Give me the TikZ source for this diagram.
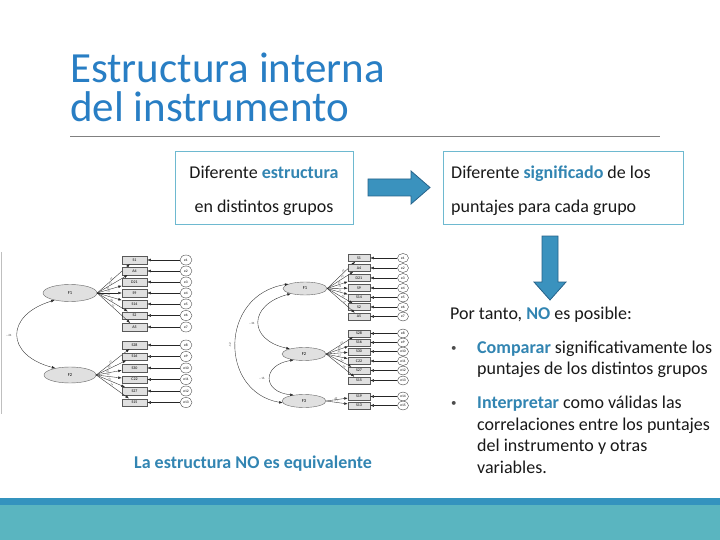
\documentclass[tikz,border=0pt]{standalone}
\usepackage{fontspec}
\setmainfont{Carlito}
\usetikzlibrary{arrows.meta,shapes.geometric}
\definecolor{titleblue}{RGB}{40,126,196}
\definecolor{accent}{RGB}{50,133,178}
\definecolor{boxline}{RGB}{110,185,208}
\definecolor{arrowfill}{RGB}{58,146,190}
\definecolor{arrowline}{RGB}{38,98,138}
\definecolor{stripdark}{RGB}{52,147,190}
\definecolor{stripteal}{RGB}{90,181,192}
\definecolor{bodytext}{RGB}{25,25,25}
\tikzset{
  ttl/.style={anchor=base west, inner sep=0, font=\fontsize{43}{43}\selectfont, text=titleblue},
  body/.style={anchor=base west, inner sep=0, font=\fontsize{18}{21}\selectfont, text=bodytext},
  frame/.style={draw=boxline, line width=0.9pt, anchor=north west, inner sep=0},
  blockarrow/.style={fill=arrowfill, draw=arrowline, line width=0.8pt, line join=miter},
  latent/.style={ellipse, draw=black!60, fill=black!12, line width=0.4pt, inner sep=0, font=\fontsize{4.5}{4.5}\selectfont},
  obs/.style={rectangle, draw=black!65, fill=black!12, line width=0.5pt, inner sep=0, font=\fontsize{4}{4}\selectfont},
  err/.style={ellipse, draw=black!75, fill=white, line width=0.4pt, inner sep=0, font=\fontsize{3.6}{3.6}\selectfont},
  ld/.style={-{Latex[length=3.5pt,width=2.6pt]}, line width=0.35pt, draw=black!85},
  cov/.style={{Latex[length=3.5pt,width=2.6pt]}-{Latex[length=3.5pt,width=2.6pt]}, line width=0.35pt, draw=black!85},
  lbl/.style={font=\fontsize{2.6}{2.6}\selectfont, inner sep=0.2pt, text=black!70}
}
\begin{document}
\begin{tikzpicture}[x=1pt,y=-1pt]
\useasboundingbox (0,0) rectangle (720,540);
\fill[white] (0,0) rectangle (720,540);

% title
\node[ttl] (t1) at (70,83) {Estructura interna};
\node[ttl] (t2) at (70,122) {del instrumento};
\coordinate (r1) at (70,136);
\coordinate (r2) at (660,136);
\draw[black!50, line width=0.8pt] (r1) -- (r2);

% boxes
\node[frame, minimum width=178pt, minimum height=73pt] (box1) at (175,151) {};
\node[frame, minimum width=240pt, minimum height=73pt] (box2) at (443,151) {};
\node[body, anchor=base] (b1a) at (264,179) {Diferente \textcolor{accent}{\textbf{estructura}}};
\node[body, anchor=base] (b1b) at (264,213) {en distintos grupos};
\node[body] (b2a) at (451,179) {Diferente \textcolor{accent}{\textbf{significado}} de los};
\node[body] (b2b) at (451,213) {puntajes para cada grupo};

% block arrows
\draw[blockarrow] (368,179) -- (411,179) -- (411,171) -- (430,187.5) -- (411,204) -- (411,196) -- (368,196) -- cycle;
\draw[blockarrow] (542,236) -- (558,236) -- (558,282) -- (566,282) -- (550,300) -- (534,282) -- (542,282) -- cycle;

% right text
\node[body] (pt) at (450,319) {Por tanto, \textcolor{accent}{\textbf{NO}} es posible:};
\node[body, font=\fontsize{11}{11}\selectfont, text=black!70] (bu1) at (451,351) {\textbullet};
\node[body] (c1) at (477,353) {\textcolor{accent}{\textbf{Comparar}} significativamente los};
\node[body] (c2) at (477,374) {puntajes de los distintos grupos};
\node[body, font=\fontsize{11}{11}\selectfont, text=black!70] (bu2) at (451,406) {\textbullet};
\node[body] (i1) at (477,408) {\textcolor{accent}{\textbf{Interpretar}} como válidas las};
\node[body] (i2) at (477,430) {correlaciones entre los puntajes};
\node[body] (i3) at (477,451) {del instrumento y otras};
\node[body] (i4) at (477,473) {variables.};

% caption
\node[body, anchor=base, text=accent] (cap) at (253,468) {\textbf{La estructura NO es equivalente}};

% image edge
\coordinate (ed1) at (1,252);
\coordinate (ed2) at (1,414);
\draw[black!25, line width=0.6pt] (ed1) -- (ed2);

% ---------------- left SEM ----------------
\node[latent, minimum width=54pt, minimum height=17pt] (LF1) at (70,293) {F1};
\node[latent, minimum width=52pt, minimum height=16pt] (LF2) at (70,375) {F2};
\foreach \i/\y/\t/\v in {1/260/S1/.62, 2/271/A4/.71, 3/282/D21/.65, 4/293/S9/.70, 5/304/S14/.76, 6/315.5/S2/.68, 7/327/A5/.55} {
  \node[obs, minimum width=25pt, minimum height=7.5pt] (La\i) at (134.5,\y) {\t};
  \node[err, minimum width=12pt, minimum height=10pt] (Le\i) at (186,\y) {e\i};
  \draw[ld] (Le\i) -- (La\i);
  \draw[ld] (LF1.east) -- node[lbl, pos=0.45, above, sloped] {\v} (La\i);
}
\foreach \i/\y/\t/\v in {8/345/S28/.61, 9/356.5/S16/.66, 10/368/S30/.60, 11/379.5/C22/.58, 12/391/S27/.63, 13/402.5/S15/.59} {
  \node[obs, minimum width=25pt, minimum height=7.5pt] (La\i) at (134.5,\y) {\t};
  \node[err, minimum width=12pt, minimum height=10pt] (Le\i) at (186,\y) {e\i};
  \draw[ld] (Le\i) -- (La\i);
  \draw[ld] (LF2.east) -- node[lbl, pos=0.45, above, sloped] {\v} (La\i);
}
\draw[cov] (LF1.205) .. controls (5,315) and (5,355) .. (LF2.155);
\node[lbl, font=\fontsize{3.2}{3.2}\selectfont] (Lc) at (9,335) {-.24};

% ---------------- right SEM ----------------
\node[latent, minimum width=44pt, minimum height=13pt] (RF1) at (305,288.5) {F1};
\node[latent, minimum width=44pt, minimum height=13pt] (RF2) at (304,354) {F2};
\node[latent, minimum width=44pt, minimum height=13pt] (RF3) at (304,401) {F3};
\foreach \i/\y/\t/\v in {1/258/S1/.62, 2/268/A4/.70, 3/278/D21/.66, 4/288/S9/.72, 5/297.5/S14/.75, 6/307/S2/.69, 7/316.5/A5/.57} {
  \node[obs, minimum width=22pt, minimum height=7pt] (Ra\i) at (359,\y) {\t};
  \node[err, minimum width=11pt, minimum height=9pt] (Re\i) at (403,\y) {e\i};
  \draw[ld] (Re\i) -- (Ra\i);
  \draw[ld] (RF1.east) -- node[lbl, pos=0.6, above, sloped] {\v} (Ra\i);
}
\foreach \i/\y/\t/\v in {8/333.5/S28/.62, 9/342.5/S16/.68, 10/351.5/S30/.61, 11/361/C22/.57, 12/370.5/S27/.64, 13/380.5/S15/.58} {
  \node[obs, minimum width=22pt, minimum height=7pt] (Ra\i) at (359,\y) {\t};
  \node[err, minimum width=11pt, minimum height=9pt] (Re\i) at (403,\y) {e\i};
  \draw[ld] (Re\i) -- (Ra\i);
  \draw[ld] (RF2.east) -- node[lbl, pos=0.6, above, sloped] {\v} (Ra\i);
}
\foreach \i/\y/\t/\v in {14/396.5/S19/.69, 15/405.5/S13/.71} {
  \node[obs, minimum width=22pt, minimum height=7pt] (Ra\i) at (359,\y) {\t};
  \node[err, minimum width=11pt, minimum height=9pt] (Re\i) at (403,\y) {e\i};
  \draw[ld] (Re\i) -- (Ra\i);
  \draw[ld] (RF3.east) -- node[lbl, pos=0.45, above, sloped] {\v} (Ra\i);
}
\draw[cov] (RF1.200) .. controls (248,305) and (248,340) .. (RF2.160);
\draw[cov] (RF1.165) .. controls (219,295) and (219,392) .. (RF3.185);
\draw[cov] (RF2.210) .. controls (262,365) and (262,392) .. (RF3.150);
\node[lbl, font=\fontsize{3.2}{3.2}\selectfont] (Rc1) at (252,323) {-.34};
\node[lbl, font=\fontsize{3.2}{3.2}\selectfont, rotate=90] (Rc2) at (230,345) {.12};
\node[lbl, font=\fontsize{3.2}{3.2}\selectfont] (Rc3) at (262,378) {-.16};

% bottom band
\fill[stripdark] (0,498) rectangle (720,505);
\fill[stripteal] (0,505) rectangle (720,540);
\end{tikzpicture}
\end{document}
